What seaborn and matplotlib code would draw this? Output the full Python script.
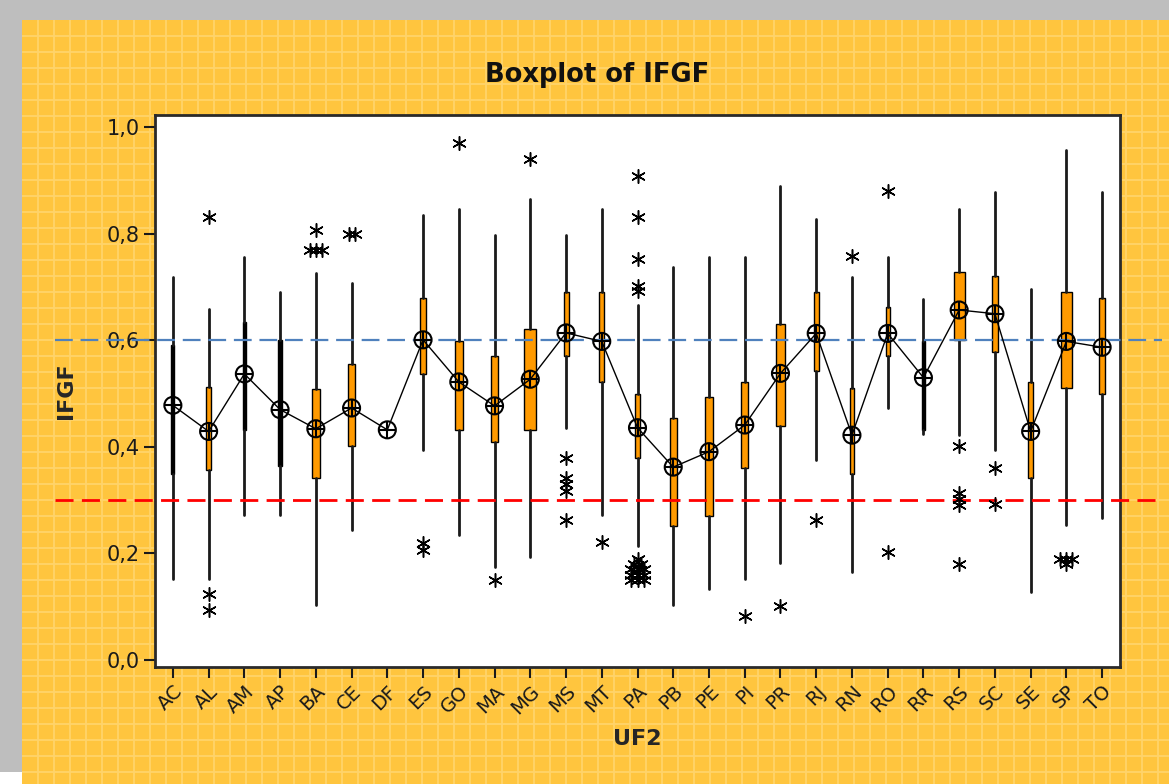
import numpy as np
import pandas as pd
import seaborn as sns
import matplotlib.pyplot as plt
from matplotlib.patches import Rectangle

# UF categories
uf = ['AC', 'AL', 'AM', 'AP', 'BA', 'CE', 'DF', 'ES', 'GO', 'MA', 'MG', 'MS', 'MT', 'PA',
      'PB', 'PE', 'PI', 'PR', 'RJ', 'RN', 'RO', 'RR', 'RS', 'SC', 'SE', 'SP', 'TO']

# box statistics (DF has only the mean)
q1 = [0.350, 0.357, 0.431, 0.364, 0.341, 0.402, np.nan, 0.537, 0.432, 0.409, 0.432, 0.571, 0.521, 0.379,
      0.251, 0.271, 0.361, 0.440, 0.542, 0.350, 0.571, 0.431, 0.601, 0.578, 0.341, 0.511, 0.499]
q3 = [0.591, 0.513, 0.634, 0.601, 0.508, 0.556, np.nan, 0.680, 0.599, 0.571, 0.621, 0.691, 0.691, 0.499,
      0.455, 0.494, 0.522, 0.631, 0.691, 0.510, 0.662, 0.599, 0.729, 0.721, 0.522, 0.691, 0.680]
whis_lo = [0.152, 0.152, 0.273, 0.273, 0.103, 0.244, np.nan, 0.394, 0.235, 0.175, 0.194, 0.435, 0.273, 0.213,
           0.103, 0.134, 0.152, 0.182, 0.375, 0.165, 0.473, 0.425, 0.423, 0.394, 0.127, 0.254, 0.266]
whis_hi = [0.718, 0.659, 0.757, 0.690, 0.727, 0.707, np.nan, 0.836, 0.847, 0.797, 0.866, 0.797, 0.847, 0.666,
           0.738, 0.757, 0.757, 0.889, 0.828, 0.718, 0.757, 0.677, 0.847, 0.878, 0.697, 0.957, 0.878]
media = [0.478, 0.429, 0.537, 0.470, 0.434, 0.473, 0.432, 0.601, 0.522, 0.477, 0.527, 0.614, 0.598, 0.436,
         0.362, 0.391, 0.441, 0.538, 0.613, 0.422, 0.613, 0.530, 0.657, 0.650, 0.429, 0.598, 0.587]
# box width (Minitab scales by sample size)
larg = [0.09, 0.15, 0.10, 0.09, 0.24, 0.20, 0.0, 0.15, 0.21, 0.20, 0.34, 0.14, 0.14, 0.14,
        0.19, 0.20, 0.19, 0.23, 0.13, 0.13, 0.12, 0.09, 0.30, 0.19, 0.13, 0.32, 0.15]

# outliers
out_uf = ['AL', 'AL', 'AL', 'BA', 'BA', 'BA', 'BA', 'CE', 'CE', 'ES', 'ES', 'GO', 'MA', 'MG',
          'MS', 'MS', 'MS', 'MS', 'MS', 'MT'] + ['PA'] * 17 + \
         ['PI', 'PR', 'RJ', 'RN', 'RO', 'RO', 'RS', 'RS', 'RS', 'RS', 'RS', 'SC', 'SC',
          'SP', 'SP', 'SP', 'SP']
out_val = [0.831, 0.124, 0.093, 0.807, 0.770, 0.770, 0.770, 0.800, 0.800, 0.220, 0.206, 0.970, 0.151, 0.940,
           0.379, 0.342, 0.330, 0.318, 0.262, 0.222,
           0.909, 0.831, 0.752, 0.702, 0.693, 0.190, 0.180, 0.180, 0.170, 0.170, 0.170,
           0.160, 0.160, 0.160, 0.150, 0.150, 0.150,
           0.082, 0.101, 0.262, 0.759, 0.880, 0.203, 0.402, 0.314, 0.303, 0.291, 0.181, 0.361, 0.292,
           0.190, 0.190, 0.190, 0.180]

sns.set_theme(style='white')
plt.rcParams['font.family'] = ['DejaVu Sans']

W, H = 1169, 784
fig = plt.figure(figsize=(W / 100, H / 100), dpi=100)
fig.patch.set_facecolor('white')

# fundo estilo Minitab
bg = fig.add_axes([0, 0, 1, 1], zorder=-10)
bg.set_xlim(0, W)
bg.set_ylim(H, 0)
bg.axis('off')
bg.add_patch(Rectangle((0, 0), W, 772, color='#BEBEBE', lw=0))
bg.add_patch(Rectangle((22, 20), W - 22, H - 20, color='#FFC53E', lw=0))
bg.vlines(np.arange(38, W, 16), 20, H, color='#FFD46A', lw=1.3)
bg.hlines(np.arange(36, H, 16), 22, W, color='#FFD46A', lw=1.3)

ax = fig.add_axes([155 / W, 1 - 666.6 / H, (1120 - 155) / W, (666.6 - 114.5) / H])
ax.set_facecolor('white')

pos = np.arange(len(uf))
stats, bpos, bw = [], [], []
for i in range(len(uf)):
    if np.isnan(q1[i]):
        continue
    stats.append({'med': media[i], 'q1': q1[i], 'q3': q3[i],
                  'whislo': whis_lo[i], 'whishi': whis_hi[i], 'fliers': []})
    bpos.append(i)
    bw.append(larg[i])

bp = ax.bxp(stats, positions=bpos, widths=bw, patch_artist=True, showcaps=False,
            showfliers=False, manage_ticks=False,
            boxprops=dict(facecolor='#FF9A00', edgecolor='black', linewidth=1.0),
            whiskerprops=dict(color='#1a1a1a', linewidth=2.0),
            medianprops=dict(linewidth=0))
# very narrow boxes render as solid black bars in the original
for b, w in zip(bp['boxes'], bw):
    if w < 0.11:
        b.set_facecolor('black')

# linha das medias
sns.lineplot(x=pos, y=media, ax=ax, color='black', lw=1.0, zorder=4)
sns.scatterplot(x=pos, y=media, ax=ax, marker='o', s=150, facecolor='none',
                edgecolor='black', linewidth=1.5, zorder=5)
sns.scatterplot(x=pos, y=media, ax=ax, marker='+', s=150, color='black',
                linewidth=1.5, zorder=5)

# outliers, ties side by side
df_out = pd.DataFrame({'uf': out_uf, 'val': out_val})
df_out['x'] = df_out['uf'].map({u: i for i, u in enumerate(uf)}).astype(float)
for (u, v), g in df_out.groupby(['uf', 'val']):
    n = len(g)
    df_out.loc[g.index, 'x'] = g['x'] + (np.arange(n) - (n - 1) / 2) * 0.17
sns.scatterplot(data=df_out, x='x', y='val', ax=ax, marker=(6, 2, 0), s=95,
                color='black', linewidth=1.1, zorder=6)

# linhas de referencia
ax.axhline(0.6, xmin=-0.104, xmax=1.044, clip_on=False, color='#4F81BD', lw=1.6,
           dashes=(8, 3.5), zorder=3)
ax.axhline(0.3, xmin=-0.104, xmax=1.044, clip_on=False, color='#FF0000', lw=2.0,
           dashes=(6.5, 3), zorder=3)

ax.set_xlim(-0.5, 26.5)
ax.set_ylim(-0.0125, 1.024)
ax.set_yticks([0, 0.2, 0.4, 0.6, 0.8, 1.0])
ax.set_yticklabels(['0,0', '0,2', '0,4', '0,6', '0,8', '1,0'], fontsize=15, color='#1a1a1a')
ax.set_xticks(pos)
ax.set_xticklabels(uf, rotation=45, ha='right', rotation_mode='anchor', fontsize=14, color='#1a1a1a')
ax.tick_params(axis='both', direction='out', length=8, width=1.5, color='#1a1a1a',
               bottom=True, left=True, pad=3)
for s in ax.spines.values():
    s.set_color('#2a2a2a')
    s.set_linewidth(2.0)

ax.set_xlabel('UF2', fontsize=16, fontweight='bold', labelpad=8)
ax.set_ylabel('IFGF', fontsize=16, fontweight='bold', labelpad=22)
fig.text(597 / W, 1 - 75 / H, 'Boxplot of IFGF', ha='center', va='center',
         fontsize=18.5, fontweight='bold', color='#111111')

fig.savefig('out.png', dpi=100)
